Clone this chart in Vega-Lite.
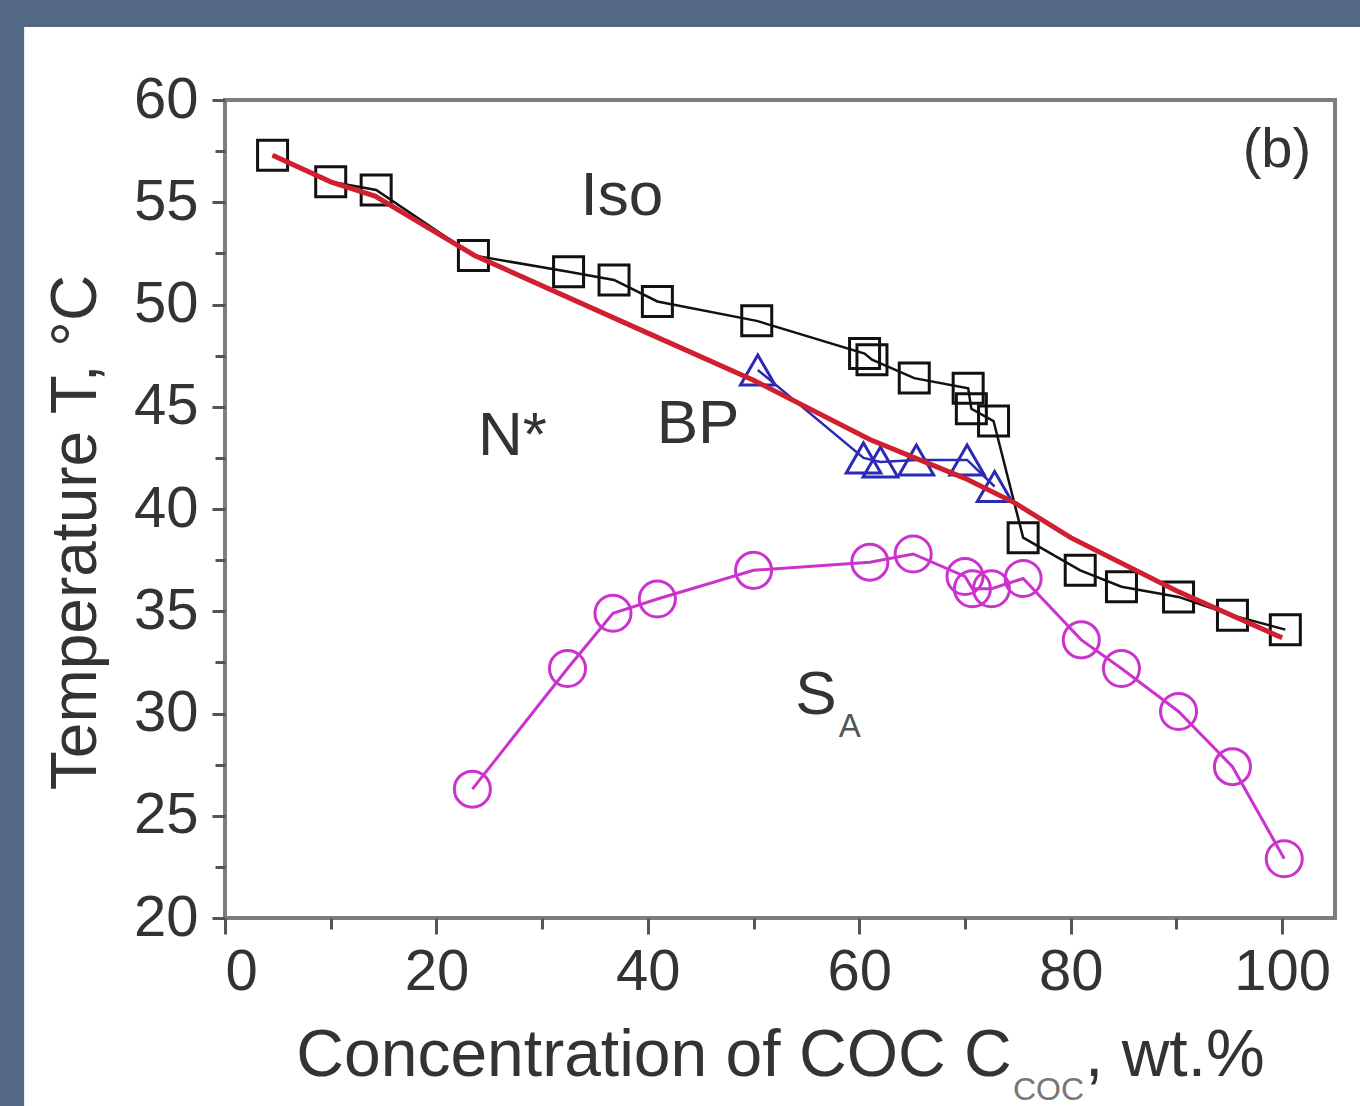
{
  "$schema": "https://vega.github.io/schema/vega-lite/v6.json",
  "width": 1110,
  "height": 818,
  "autosize": {"type": "none"},
  "padding": {"left": 225, "top": 100, "right": 25, "bottom": 188},
  "background": "#536883",
  "config": {
    "font": "Liberation Sans",
    "view": {"stroke": null},
    "axis": {"grid": false, "domain": false, "tickColor": "#555555", "tickWidth": 3, "labelColor": "#333333", "titleColor": "#333333", "labelFont": "Liberation Sans", "titleFont": "Liberation Sans", "titleFontWeight": "normal"}
  },
  "datasets": {
    "iso": [
      {"x": 4.5, "T": 57.3}, {"x": 10, "T": 56.0}, {"x": 14.3, "T": 55.6}, {"x": 23.5, "T": 52.4},
      {"x": 32.5, "T": 51.6}, {"x": 36.8, "T": 51.2}, {"x": 40.9, "T": 50.15}, {"x": 50.3, "T": 49.2},
      {"x": 60.5, "T": 47.6}, {"x": 61.2, "T": 47.3}, {"x": 65.2, "T": 46.4}, {"x": 70.3, "T": 45.9},
      {"x": 70.6, "T": 44.9}, {"x": 72.7, "T": 44.3}, {"x": 75.5, "T": 38.6}, {"x": 80.9, "T": 37.0},
      {"x": 84.8, "T": 36.2}, {"x": 90.2, "T": 35.7}, {"x": 95.3, "T": 34.8}, {"x": 100.3, "T": 34.1}
    ],
    "sa": [
      {"x": 23.4, "T": 26.3}, {"x": 32.4, "T": 32.2}, {"x": 36.7, "T": 34.9}, {"x": 40.9, "T": 35.6},
      {"x": 50.0, "T": 37.0}, {"x": 61.0, "T": 37.4}, {"x": 65.1, "T": 37.8}, {"x": 70.0, "T": 36.7},
      {"x": 70.7, "T": 36.1}, {"x": 72.5, "T": 36.1}, {"x": 75.5, "T": 36.6}, {"x": 81.0, "T": 33.6},
      {"x": 84.8, "T": 32.2}, {"x": 90.2, "T": 30.1}, {"x": 95.3, "T": 27.4}, {"x": 100.2, "T": 22.9}
    ],
    "bp": [
      {"x": 50.4, "T": 46.8}, {"x": 60.4, "T": 42.5}, {"x": 62.0, "T": 42.3}, {"x": 65.4, "T": 42.4},
      {"x": 70.2, "T": 42.4}, {"x": 72.8, "T": 41.1}
    ],
    "fit": [
      {"x": 4.5, "T": 57.3}, {"x": 10, "T": 56.0}, {"x": 14.2, "T": 55.3}, {"x": 23.6, "T": 52.4},
      {"x": 40, "T": 48.6}, {"x": 50, "T": 46.3}, {"x": 61, "T": 43.4}, {"x": 70, "T": 41.5},
      {"x": 74.7, "T": 40.3}, {"x": 80, "T": 38.6}, {"x": 90, "T": 36.0}, {"x": 100, "T": 33.7}
    ],
    "labels": [
      {"x": 37.55, "T": 54.4, "label": "Iso"},
      {"x": 27.2, "T": 42.65, "label": "N*"},
      {"x": 44.75, "T": 43.25, "label": "BP"},
      {"x": 55.9, "T": 30.0, "label": "S"}
    ],
    "sub": [{"x": 59.1, "T": 28.85, "label": "A"}],
    "panel": [{"x": 99.5, "T": 56.7, "label": "(b)"}],
    "xsub": [{"x": 77.9, "T": 11.1, "label": "COC"}],
    "sheet": [{"x": -19.0, "x2": 115, "T": 63.57, "T2": 0}],
    "frame": [{"x": 0, "x2": 105, "T": 20, "T2": 60}]
  },
  "encoding": {
    "x": {
      "field": "x", "type": "quantitative",
      "scale": {"domain": [0, 105], "nice": false, "zero": false},
      "title": "Concentration of COC C\u00a0\u00a0\u00a0\u00a0, wt.%",
      "axis": {
        "zindex": 2,
        "values": [0, 10, 20, 30, 40, 50, 60, 70, 80, 90, 100],
        "labelExpr": "datum.value % 20 === 0 ? datum.label : ''",
        "tickSize": {"condition": {"test": "datum.value % 20 === 0", "value": 16}, "value": 11},
        "labelFontSize": 58, "labelPadding": 9, "titleFontSize": 66, "titlePadding": 22
      }
    },
    "y": {
      "field": "T", "type": "quantitative",
      "scale": {"domain": [20, 60], "nice": false, "zero": false},
      "title": "Temperature T, °C",
      "axis": {
        "zindex": 2,
        "values": [20, 22.5, 25, 27.5, 30, 32.5, 35, 37.5, 40, 42.5, 45, 47.5, 50, 52.5, 55, 57.5, 60],
        "labelExpr": "datum.value % 5 === 0 ? datum.label : ''",
        "tickSize": {"condition": {"test": "datum.value % 5 === 0", "value": 13}, "value": 10},
        "labelFontSize": 58, "labelPadding": 14, "titleFontSize": 64, "titlePadding": 25, "titleY": 432
      }
    }
  },
  "layer": [
    {
      "data": {"name": "sheet"},
      "mark": {"type": "rect", "fill": "#ffffff"},
      "encoding": {
        "x2": {"field": "x2"},
        "y2": {"field": "T2"}
      }
    },
    {
      "data": {"name": "iso"},
      "mark": {"type": "line", "color": "#111111", "strokeWidth": 2.5}
    },
    {
      "data": {"name": "iso"},
      "mark": {"type": "point", "shape": "square", "filled": false, "color": "#111111", "strokeWidth": 3, "size": 900, "opacity": 1}
    },
    {
      "data": {"name": "sa"},
      "mark": {"type": "line", "color": "#cc33cc", "strokeWidth": 3}
    },
    {
      "data": {"name": "sa"},
      "mark": {"type": "point", "shape": "circle", "filled": false, "color": "#cc33cc", "strokeWidth": 3, "size": 1300, "opacity": 1}
    },
    {
      "data": {"name": "bp"},
      "mark": {"type": "line", "color": "#2a2ab4", "strokeWidth": 2.5}
    },
    {
      "data": {"name": "bp"},
      "mark": {"type": "point", "shape": "triangle-up", "filled": false, "color": "#2a2ab4", "strokeWidth": 3, "size": 1200, "opacity": 1}
    },
    {
      "data": {"name": "fit"},
      "mark": {"type": "line", "color": "#d01f2e", "strokeWidth": 5}
    },
    {
      "data": {"name": "labels"},
      "mark": {"type": "text", "fontSize": 62, "color": "#333333", "align": "center", "baseline": "alphabetic"},
      "encoding": {"text": {"field": "label"}}
    },
    {
      "data": {"name": "sub"},
      "mark": {"type": "text", "fontSize": 33, "color": "#555555", "align": "center", "baseline": "alphabetic"},
      "encoding": {"text": {"field": "label"}}
    },
    {
      "data": {"name": "panel"},
      "mark": {"type": "text", "fontSize": 56, "color": "#333333", "align": "center", "baseline": "alphabetic"},
      "encoding": {"text": {"field": "label"}}
    },
    {
      "data": {"name": "xsub"},
      "mark": {"type": "text", "fontSize": 32, "color": "#777777", "align": "center", "baseline": "alphabetic"},
      "encoding": {"text": {"field": "label"}}
    },
    {
      "data": {"name": "frame"},
      "mark": {"type": "rect", "filled": false, "stroke": "#7d7d7d", "strokeWidth": 4},
      "encoding": {
        "x2": {"field": "x2"},
        "y2": {"field": "T2"}
      }
    }
  ]
}
